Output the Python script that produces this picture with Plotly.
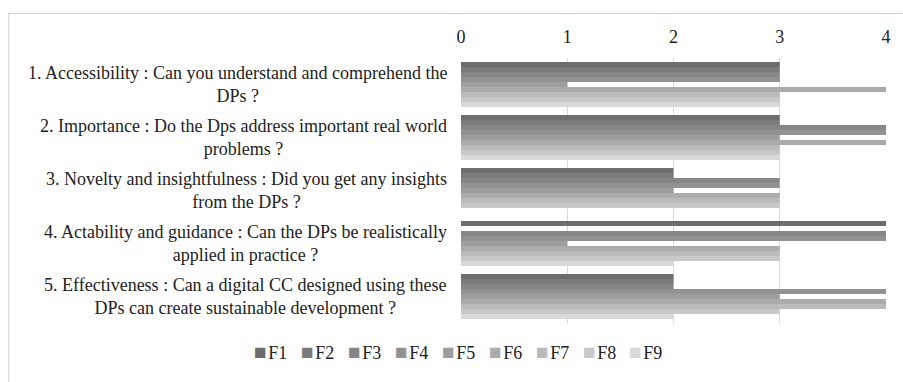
import plotly.graph_objects as go

categories = [
    "1. Accessibility : Can you understand and comprehend the<br>DPs ?",
    "2. Importance : Do the Dps address important real world<br>problems ?",
    "3. Novelty and insightfulness : Did you get any insights<br>from the DPs ?",
    "4. Actability and guidance : Can the DPs be realistically<br>applied in practice ?",
    "5. Effectiveness : Can a digital CC designed using these<br>DPs can create sustainable development ?",
]
series_names = ["F1", "F2", "F3", "F4", "F5", "F6", "F7", "F8", "F9"]
F1 = [3, 3, 2, 4, 2]
F2 = [3, 3, 2, 0, 2]
F3 = [3, 4, 3, 4, 2]
F4 = [3, 4, 3, 4, 4]
F5 = [1, 3, 2, 1, 3]
F6 = [4, 4, 3, 3, 4]
F7 = [3, 3, 3, 3, 4]
F8 = [3, 3, 3, 3, 3]
F9 = [3, 3, 0, 2, 2]
series_values = [F1, F2, F3, F4, F5, F6, F7, F8, F9]
colors = ["#6d6d6d", "#7b7b7b", "#868686", "#929292", "#9e9e9e",
          "#ababab", "#bbbbbb", "#c8c8c8", "#d9d9d9"]
x_ticks = [0, 1, 2, 3, 4]

FONT = "Liberation Serif, Times New Roman, serif"
FS = 18
W, H = 903, 382
ML, MR, MT, MB = 461, 14, 58, 59

fig = go.Figure()
for name, vals, col in zip(series_names, series_values, colors):
    fig.add_trace(go.Bar(y=categories, x=vals, name=name, orientation="h",
                         marker=dict(color=col, line=dict(width=0)),
                         showlegend=False))

# category labels as annotations (centered multi-line, right-anchored)
for c in categories:
    fig.add_annotation(x=0, xref="paper", xanchor="right", xshift=-12,
                       y=c, yref="y", text=c, showarrow=False, align="center",
                       font=dict(family=FONT, size=FS, color="#222"))

pw = W - ML - MR
ph = H - MT - MB
def px_x(p):
    return (p - ML) / pw
def px_y(p):
    return (H - MB - p) / ph

# legend row (square swatch + series name), laid out like the original
LEG_X0, LEG_PITCH, LEG_Y = 252, 47.2, 352
for i, (name, col) in enumerate(zip(series_names, colors)):
    fig.add_annotation(
        x=px_x(LEG_X0 + i * LEG_PITCH), xref="paper", xanchor="left",
        y=px_y(LEG_Y), yref="paper", yanchor="middle", showarrow=False,
        text=f'<span style="color:{col};font-size:21px">\u25a0</span>\u200a{name}',
        font=dict(family=FONT, size=FS, color="#222"), borderpad=0)

fig.add_shape(type="rect", xref="paper", yref="paper",
              x0=px_x(5.5), x1=px_x(910), y0=px_y(392), y1=px_y(13.5),
              line=dict(color="#d0d0d0", width=1), fillcolor="rgba(0,0,0,0)",
              layer="below")

fig.update_layout(
    width=W, height=H,
    margin=dict(l=ML, r=MR, t=MT, b=MB),
    barmode="group", bargap=0.15, bargroupgap=0,
    plot_bgcolor="white", paper_bgcolor="white",
    font=dict(family=FONT, size=FS, color="#222"),
    xaxis=dict(side="top", range=[0, 4], tickvals=x_ticks,
               showgrid=True, gridcolor="#d9d9d9", gridwidth=1,
               zeroline=False, showline=False, ticks="", ticklabelstandoff=10,
               tickfont=dict(family=FONT, size=FS, color="#222")),
    yaxis=dict(autorange="reversed", showticklabels=False, ticks="",
               showgrid=False, zeroline=False, showline=False),
    showlegend=False,
)

fig.write_html("out.html", config={"displayModeBar": False},
               post_script="document.body.style.margin='0';")
